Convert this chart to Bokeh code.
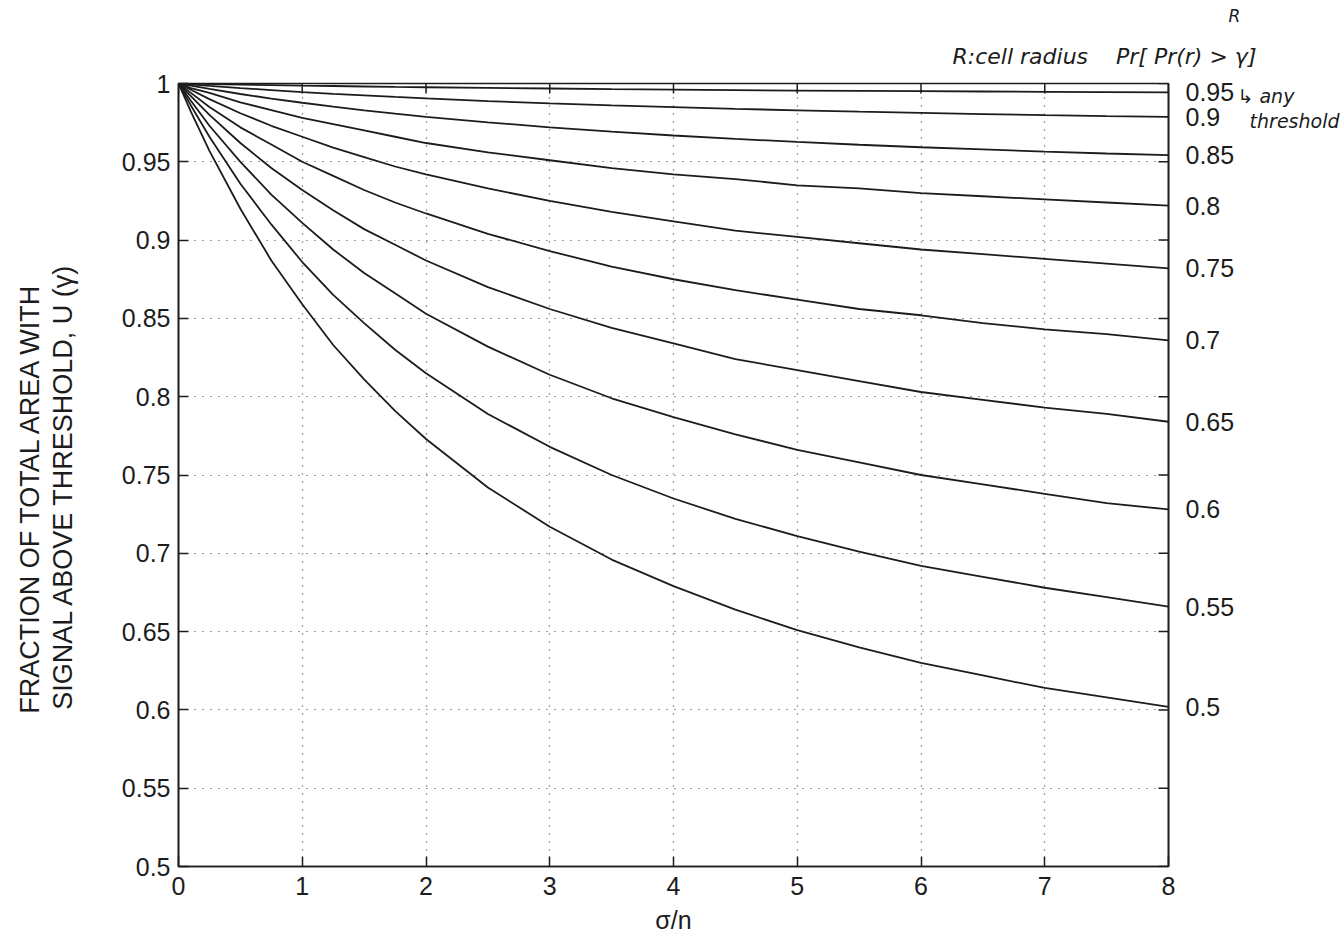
import math
from bokeh.plotting import figure
from bokeh.models import Range1d, LinearAxis, FixedTicker, Title
from bokeh.embed import file_html
from bokeh.resources import INLINE

# ---------------- data ----------------
sigma_over_n = [0, 0.1, 0.25, 0.5, 0.75, 1, 1.25, 1.5, 1.75, 2, 2.5, 3, 3.5, 4, 4.5,
                5, 5.5, 6, 6.5, 7, 7.5, 8]

boundary_prob = ["0.95", "0.9", "0.85", "0.8", "0.75", "0.7", "0.65", "0.6", "0.55", "0.5"]

u_095 = [1.0, 0.9999, 0.9996, 0.9993, 0.9990, 0.9986, 0.9984, 0.9981, 0.9978, 0.9976,
         0.9972, 0.9968, 0.9964, 0.9961, 0.9958, 0.9955, 0.9953, 0.9951, 0.9949, 0.9947,
         0.9945, 0.9943]
u_090 = [1.0, 0.9994, 0.9985, 0.9971, 0.9958, 0.9945, 0.9934, 0.9924, 0.9914, 0.9905,
         0.9888, 0.9873, 0.9860, 0.9849, 0.9838, 0.9829, 0.9820, 0.9812, 0.9805, 0.9798,
         0.9792, 0.9787]
u_085 = [1.0, 0.9986, 0.9965, 0.9933, 0.9904, 0.9877, 0.9852, 0.9829, 0.9807, 0.9787,
         0.9752, 0.9720, 0.9693, 0.9668, 0.9646, 0.9627, 0.9609, 0.9593, 0.9579, 0.9565,
         0.9553, 0.9542]
u_080 = [1.0, 0.997, 0.994, 0.988, 0.983, 0.978, 0.974, 0.970, 0.966, 0.962,
         0.956, 0.951, 0.946, 0.942, 0.939, 0.935, 0.933, 0.930, 0.928, 0.926,
         0.924, 0.922]
u_075 = [1.0, 0.996, 0.990, 0.981, 0.973, 0.966, 0.959, 0.953, 0.947, 0.942,
         0.933, 0.925, 0.918, 0.912, 0.906, 0.902, 0.898, 0.894, 0.891, 0.888,
         0.885, 0.882]
u_070 = [1.0, 0.994, 0.985, 0.972, 0.961, 0.950, 0.941, 0.932, 0.924, 0.917,
         0.904, 0.893, 0.883, 0.875, 0.868, 0.862, 0.856, 0.852, 0.847, 0.843,
         0.840, 0.836]
u_065 = [1.0, 0.992, 0.980, 0.962, 0.946, 0.932, 0.919, 0.907, 0.897, 0.887,
         0.870, 0.856, 0.844, 0.834, 0.824, 0.817, 0.810, 0.803, 0.798, 0.793,
         0.789, 0.784]
u_060 = [1.0, 0.989, 0.973, 0.950, 0.929, 0.911, 0.894, 0.879, 0.866, 0.853,
         0.832, 0.814, 0.799, 0.787, 0.776, 0.766, 0.758, 0.750, 0.744, 0.738,
         0.732, 0.728]
u_055 = [1.0, 0.986, 0.966, 0.936, 0.910, 0.886, 0.865, 0.847, 0.830, 0.815,
         0.789, 0.768, 0.750, 0.735, 0.722, 0.711, 0.701, 0.692, 0.685, 0.678,
         0.672, 0.666]
u_050 = [1.0, 0.982, 0.957, 0.920, 0.887, 0.859, 0.833, 0.811, 0.791, 0.773,
         0.742, 0.717, 0.696, 0.679, 0.664, 0.651, 0.640, 0.630, 0.622, 0.614,
         0.608, 0.602]

series = [u_095, u_090, u_085, u_080, u_075, u_070, u_065, u_060, u_055, u_050]

x_ticks = [0, 1, 2, 3, 4, 5, 6, 7, 8]
y_ticks = [0.5, 0.55, 0.6, 0.65, 0.7, 0.75, 0.8, 0.85, 0.9, 0.95, 1]
y_tick_labels = ["0.5", "0.55", "0.6", "0.65", "0.7", "0.75", "0.8", "0.85", "0.9", "0.95", "1"]

NB = "\u00a0"
y_label_lines = ["FRACTION OF TOTAL AREA WITH" + NB * 6,
                 "SIGNAL ABOVE THRESHOLD, U (\u03b3)" + NB * 3]
x_label = "\u03c3/n"

# hand-written notes of the reference
note_top = "R:cell radius" + NB * 4 + "Pr[ Pr(r) > \u03b3]"
note_r = "R"
note_side = ["\u21b3" + NB + "any", NB * 2 + "threshold"]
note_side_y = [0.9920, 0.9760]

# ---------------- styling ----------------
INK = "#1c1c1c"
FONT = "Liberation Sans"
HAND = "DejaVu Sans"

p = figure(width=1342, height=942, output_backend="svg", toolbar_location=None,
           x_range=Range1d(0, 8), y_range=Range1d(0.5, 1),
           min_border_left=178, min_border_right=174,
           min_border_top=83, min_border_bottom=76,
           background_fill_color="white", border_fill_color="white")

p.outline_line_color = INK
p.outline_line_width = 1.6


def style_axis(ax, ticks):
    ax.ticker = FixedTicker(ticks=ticks)
    ax.major_tick_in = 10
    ax.major_tick_out = 0
    ax.minor_tick_line_color = None
    ax.axis_line_color = INK
    ax.axis_line_width = 1.6
    ax.major_tick_line_color = INK
    ax.major_tick_line_width = 1.5
    ax.major_label_text_font = FONT
    ax.major_label_text_font_size = "25px"
    ax.major_label_text_color = INK


def style_axis_title(ax, text, size, standoff):
    ax.axis_label = text
    ax.axis_label_text_font = FONT
    ax.axis_label_text_font_size = size
    ax.axis_label_text_font_style = "normal"
    ax.axis_label_text_color = INK
    ax.axis_label_standoff = standoff


# bottom axis
xa = p.xaxis[0]
style_axis(xa, x_ticks)
xa.major_label_standoff = 10
style_axis_title(xa, x_label, "25px", 8)

# left axis (inner line of the title is its own label)
ya = p.yaxis[0]
style_axis(ya, y_ticks)
ya.major_label_standoff = 8
ya.major_label_overrides = dict(zip(y_ticks, y_tick_labels))
style_axis_title(ya, y_label_lines[1], "27px", 41)

# outer left axis carrying the first line of the title
ya2 = LinearAxis(ticker=FixedTicker(ticks=[]))
ya2.axis_line_color = None
ya2.major_tick_line_color = None
ya2.minor_tick_line_color = None
style_axis_title(ya2, y_label_lines[0], "27px", 0)
p.add_layout(ya2, "left")

# right axis: the curve names at the curve ends
end_values = [s[-1] for s in series]
right_ax = LinearAxis()
style_axis(right_ax, end_values)
right_ax.major_tick_in = 0
right_ax.major_label_standoff = 17
right_ax.major_label_overrides = dict(zip(end_values, boundary_prob))
p.add_layout(right_ax, "right")

# outer right axis carrying the side notes
right_notes = LinearAxis(ticker=FixedTicker(ticks=note_side_y))
right_notes.axis_line_color = None
right_notes.major_tick_line_color = None
right_notes.minor_tick_line_color = None
right_notes.major_tick_in = 0
right_notes.major_tick_out = 0
right_notes.major_label_standoff = 0
right_notes.major_label_text_font = HAND
right_notes.major_label_text_font_size = "19px"
right_notes.major_label_text_font_style = "italic"
right_notes.major_label_text_color = INK
right_notes.major_label_overrides = dict(zip(note_side_y, note_side))
p.add_layout(right_notes, "right")

# notes above the plot
p.add_layout(Title(text=note_top, align="left", offset=774, text_font=HAND,
                   text_font_size="22px", text_font_style="italic",
                   text_color=INK, standoff=29), "above")
p.add_layout(Title(text=note_r, align="left", offset=1050, text_font=HAND,
                   text_font_size="17px", text_font_style="italic",
                   text_color=INK, standoff=4), "above")

# grid
for g, t in ((p.xgrid[0], x_ticks), (p.ygrid[0], y_ticks)):
    g.ticker = FixedTicker(ticks=t)
    g.grid_line_color = "#3a3a3a"
    g.grid_line_dash = "1 7"
    g.grid_line_width = 1.2

# inward ticks on the top and right edges of the box
p.scatter(x_ticks, [y_ticks[-1]] * len(x_ticks), marker="dash", angle=math.pi / 2,
          size=20, line_color=INK, line_width=1.5)
p.scatter([x_ticks[-1]] * len(y_ticks), y_ticks, marker="dash",
          size=20, line_color=INK, line_width=1.5)

# curves
for s in series:
    p.line(sigma_over_n, s, line_color=INK, line_width=1.8)

open("out.html", "w").write(file_html(p, INLINE))
